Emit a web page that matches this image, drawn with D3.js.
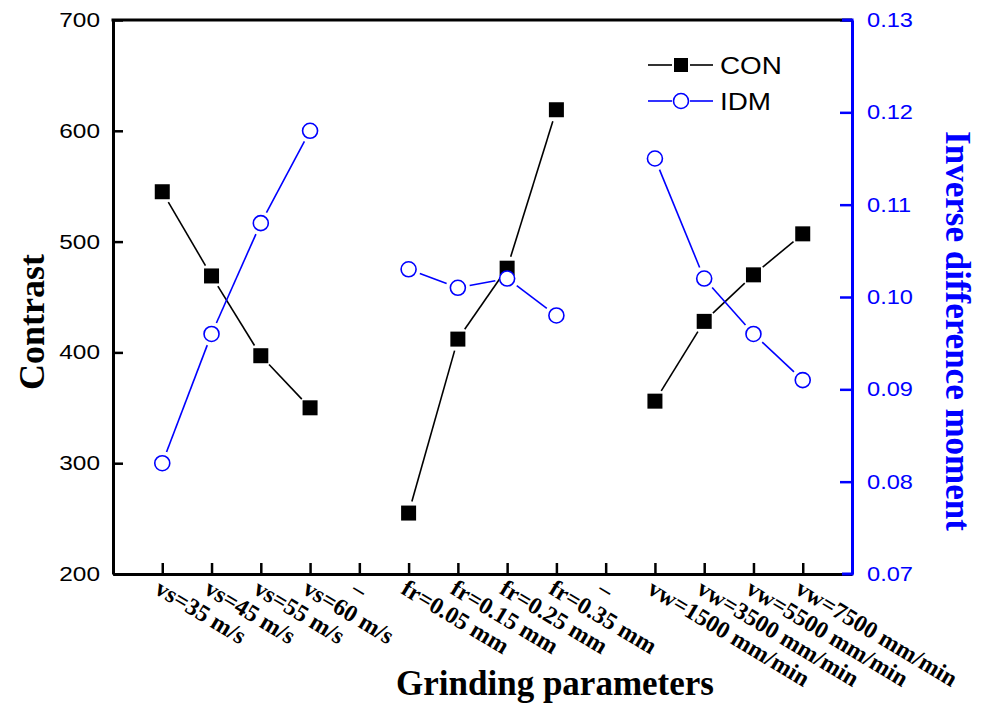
<!DOCTYPE html>
<html>
<head>
<meta charset="utf-8">
<script src="https://cdn.jsdelivr.net/npm/d3@7"></script>
<style>
  body { margin: 0; background: #fff; }
  svg { display: block; }
  .tick-lbl { font-family: "Liberation Sans", Arial, sans-serif; font-size: 20px; }
  .title { font-family: "Liberation Serif", "Times New Roman", serif; font-weight: bold; }
</style>
</head>
<body>
<svg id="chart" width="988" height="704"></svg>
<script>
const categories = ["vs=35 m/s", "vs=45 m/s", "vs=55 m/s", "vs=60 m/s", "\u2013",
  "fr=0.05 mm", "fr=0.15 mm", "fr=0.25 mm", "fr=0.35 mm", "\u2013",
  "vw=1500 mm/min", "vw=3500 mm/min", "vw=5500 mm/min", "vw=7500 mm/min"];
const conValues = [545, 469, 397, 350, null, 255, 412, 476, 619, null, 356, 428, 470, 507];
const idmValues = [0.082, 0.096, 0.108, 0.118, null, 0.103, 0.101, 0.102, 0.098, null, 0.115, 0.102, 0.096, 0.091];
const leftTicks = [200, 300, 400, 500, 600, 700];
const leftMinor = [250, 350, 450, 550, 650];
const rightTicks = [0.07, 0.08, 0.09, 0.10, 0.11, 0.12, 0.13];
const rightMinor = [0.075, 0.085, 0.095, 0.105, 0.115, 0.125];

const BLUE = "#0000ff";
const L = 113, R = 852, T = 20, B = 574;

const svg = d3.select("#chart");
const x = d3.scaleLinear().domain([0, categories.length + 1]).range([L, R]);
const yL = d3.scaleLinear().domain([200, 700]).range([B, T]);
const yR = d3.scaleLinear().domain([0.07, 0.13]).range([B, T]);

function stretch(sel, k) {
  sel.each(function () {
    const w = this.getComputedTextLength();
    this.setAttribute("textLength", w * k);
    this.setAttribute("lengthAdjust", "spacingAndGlyphs");
  });
}

// left axis
const gL = svg.append("g").attr("transform", `translate(${L},0)`);
gL.call(d3.axisLeft(yL).tickValues(leftMinor).tickSize(-6).tickFormat(""));
gL.call(d3.axisLeft(yL).tickValues(leftTicks).tickSizeInner(-10).tickSizeOuter(0).tickPadding(13));
gL.selectAll(".tick line").attr("stroke", "#000").attr("stroke-width", 2.5);
gL.selectAll(".domain").attr("stroke", "#000").attr("stroke-width", 3);
gL.selectAll(".tick text").attr("class", "tick-lbl").attr("fill", "#000")
  .attr("font-size", null).attr("font-family", null).call(stretch, 1.22);

// right axis
const gR = svg.append("g").attr("transform", `translate(${R},0)`);
gR.call(d3.axisRight(yR).tickValues(rightMinor).tickSize(-7).tickFormat(""));
gR.call(d3.axisRight(yR).tickValues(rightTicks).tickSizeInner(-12).tickSizeOuter(0).tickPadding(15)
  .tickFormat(d3.format(".2f")));
gR.selectAll(".tick line").attr("stroke", BLUE).attr("stroke-width", 2.5);
gR.selectAll(".domain").attr("stroke", BLUE).attr("stroke-width", 3);
gR.selectAll(".tick text").attr("class", "tick-lbl").attr("fill", BLUE)
  .attr("font-size", null).attr("font-family", null).call(stretch, 1.18);

// bottom axis
const majorX = d3.range(1, categories.length + 1);
const minorX = d3.range(0.5, categories.length + 1, 1);
const gB = svg.append("g").attr("transform", `translate(0,${B})`);
gB.call(d3.axisBottom(x).tickValues(minorX).tickSize(-6).tickFormat(""));
gB.call(d3.axisBottom(x).tickValues(majorX).tickSizeInner(-11).tickSizeOuter(0).tickFormat(""));
gB.selectAll(".tick line").attr("stroke", "#000").attr("stroke-width", 2.5);
gB.selectAll(".domain").attr("stroke", "#000").attr("stroke-width", 3);

// top border
svg.append("line").attr("x1", L - 1.5).attr("x2", R).attr("y1", T).attr("y2", T)
  .attr("stroke", "#000").attr("stroke-width", 3);
// blue corners on right
svg.append("line").attr("x1", R - 10).attr("x2", R + 1.5).attr("y1", B).attr("y2", B)
  .attr("stroke", BLUE).attr("stroke-width", 3);
svg.append("line").attr("x1", R - 10).attr("x2", R + 1.5).attr("y1", T).attr("y2", T)
  .attr("stroke", BLUE).attr("stroke-width", 3);

// category labels
svg.append("g").selectAll("text").data(categories).join("text")
  .attr("class", "title")
  .attr("font-size", 24)
  .attr("transform", (d, i) => `translate(${x(i + 1)},${B + 4}) rotate(31)`)
  .attr("dy", "0.72em")
  .text(d => d);

// axis titles
svg.append("text").attr("class", "title").attr("font-size", 36)
  .attr("text-anchor", "middle")
  .attr("transform", "translate(44,322) rotate(-90)")
  .text("Contrast");
svg.append("text").attr("class", "title").attr("font-size", 35).attr("fill", BLUE)
  .attr("text-anchor", "middle")
  .attr("transform", "translate(946,331) rotate(90)")
  .text("Inverse difference moment");
svg.append("text").attr("class", "title").attr("font-size", 35)
  .attr("text-anchor", "middle")
  .attr("x", 555).attr("y", 695)
  .text("Grinding parameters");

// line segments with gaps around markers
function segments(values, y, gap) {
  const out = [];
  for (let i = 0; i < values.length - 1; i++) {
    if (values[i] == null || values[i + 1] == null) continue;
    const x1 = x(i + 1), y1 = y(values[i]), x2 = x(i + 2), y2 = y(values[i + 1]);
    const dx = x2 - x1, dy = y2 - y1, len = Math.hypot(dx, dy);
    if (len <= 2 * gap) continue;
    out.push([x1 + dx / len * gap, y1 + dy / len * gap, x2 - dx / len * gap, y2 - dy / len * gap]);
  }
  return out;
}

const conPts = conValues.map((v, i) => ({ v, i })).filter(d => d.v != null);
const idmPts = idmValues.map((v, i) => ({ v, i })).filter(d => d.v != null);

svg.append("g").selectAll("line").data(segments(conValues, yL, 12)).join("line")
  .attr("x1", d => d[0]).attr("y1", d => d[1]).attr("x2", d => d[2]).attr("y2", d => d[3])
  .attr("stroke", "#000").attr("stroke-width", 1.6);
svg.append("g").selectAll("rect").data(conPts).join("rect")
  .attr("x", d => x(d.i + 1) - 7.5).attr("y", d => yL(d.v) - 7.5)
  .attr("width", 15).attr("height", 15).attr("fill", "#000");

svg.append("g").selectAll("line").data(segments(idmValues, yR, 12)).join("line")
  .attr("x1", d => d[0]).attr("y1", d => d[1]).attr("x2", d => d[2]).attr("y2", d => d[3])
  .attr("stroke", BLUE).attr("stroke-width", 1.6);
svg.append("g").selectAll("circle").data(idmPts).join("circle")
  .attr("cx", d => x(d.i + 1)).attr("cy", d => yR(d.v)).attr("r", 7.5)
  .attr("fill", "#fff").attr("stroke", BLUE).attr("stroke-width", 1.6);

// legend
const legend = [
  { name: "CON", color: "#000", shape: "square", y: 65 },
  { name: "IDM", color: BLUE, shape: "circle", y: 101 }
];
const lg = svg.append("g").selectAll("g").data(legend).join("g")
  .attr("transform", d => `translate(0,${d.y})`);
lg.append("line").attr("x1", 648).attr("x2", 672).attr("stroke", d => d.color).attr("stroke-width", 1.6);
lg.append("line").attr("x1", 690).attr("x2", 713).attr("stroke", d => d.color).attr("stroke-width", 1.6);
lg.filter(d => d.shape === "square").append("rect")
  .attr("x", 674).attr("y", -7).attr("width", 14).attr("height", 14).attr("fill", "#000");
lg.filter(d => d.shape === "circle").append("circle")
  .attr("cx", 681).attr("r", 7.5).attr("fill", "#fff").attr("stroke", BLUE).attr("stroke-width", 1.6);
lg.append("text").attr("class", "tick-lbl").attr("x", 720).attr("dy", "0.36em")
  .style("font-size", "24px").attr("fill", "#000").text(d => d.name)
  .call(stretch, 1.16);
</script>
</body>
</html>
